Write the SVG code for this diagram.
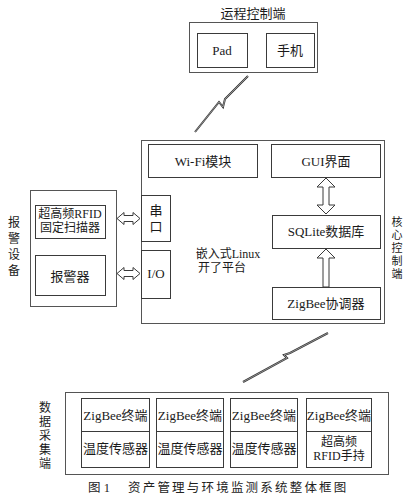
<svg xmlns="http://www.w3.org/2000/svg" width="409" height="494" viewBox="0 0 409 494">
<style>
.box{fill:#fff;stroke:#3a3a3a;stroke-width:1}
.outer{fill:none;stroke:#555;stroke-width:1}
.t{font-family:"Liberation Serif","Noto Sans CJK SC",serif;font-size:13px;fill:#1a1a1a;text-anchor:middle}
.s{font-family:"Liberation Serif","Noto Sans CJK SC",serif;font-size:12px;fill:#1a1a1a;text-anchor:middle}
.v{font-family:"Liberation Serif","Noto Sans CJK SC",serif;font-size:12px;fill:#1a1a1a;text-anchor:middle}
.vs{font-family:"Liberation Serif","Noto Sans CJK SC",serif;font-size:11px;fill:#1a1a1a;text-anchor:middle}
.arrow{fill:#fff;stroke:#3a3a3a;stroke-width:1;stroke-linejoin:miter}
.bolt{fill:none;stroke:#333;stroke-width:2;stroke-linejoin:miter}
.bolt2{fill:none;stroke:#ccc;stroke-width:0.6;stroke-linejoin:miter}
</style>
<rect width="409" height="494" fill="#fff"/>

<g id="remote">
  <text class="t" x="253" y="18">运程控制端</text>
  <rect class="outer" x="189.5" y="22.5" width="128" height="50"/>
  <g id="pad"><rect class="box" x="197.5" y="33.5" width="50" height="34"/><text class="t" x="222" y="55">Pad</text></g>
  <g id="phone"><rect class="box" x="266.5" y="33.5" width="48" height="34"/><text class="t" x="290" y="55">手机</text></g>
</g>

<g id="core">
  <rect class="outer" x="141.5" y="140.5" width="243" height="183"/>
  <text class="vs" x="397" y="226">核</text>
  <text class="vs" x="397" y="239">心</text>
  <text class="vs" x="397" y="252">控</text>
  <text class="vs" x="397" y="265">制</text>
  <text class="vs" x="397" y="278">端</text>
  <g id="wifi"><rect class="box" x="148.5" y="144.5" width="109" height="33"/><text class="t" x="203" y="165.5">Wi-Fi模块</text></g>
  <g id="gui"><rect class="box" x="271.5" y="144.5" width="109" height="33"/><text class="t" x="326" y="165.5">GUI界面</text></g>
  <g id="sqlite"><rect class="box" x="272.5" y="215.5" width="108" height="33"/><text class="t" x="326" y="236">SQLite数据库</text></g>
  <g id="coord"><rect class="box" x="272.5" y="287.5" width="108" height="32"/><text class="t" x="326" y="308">ZigBee协调器</text></g>
  <g id="serial"><rect class="box" x="141.5" y="195.5" width="29" height="46"/><text class="t" x="156" y="215">串</text><text class="t" x="156" y="231">口</text></g>
  <g id="io"><rect class="box" x="141.5" y="250.5" width="29" height="48"/><text class="t" x="156" y="278">I/O</text></g>
  <g id="linux"><text class="s" x="228" y="258">嵌入式Linux</text><text class="s" x="222" y="272">开了平台</text></g>
</g>

<g id="alarm">
  <text class="v" x="14" y="227">报</text>
  <text class="v" x="14" y="243">警</text>
  <text class="v" x="14" y="259">设</text>
  <text class="v" x="14" y="275">备</text>
  <rect class="outer" x="30.5" y="190.5" width="86" height="116"/>
  <g id="rfid-scanner"><rect class="box" x="35.5" y="205.5" width="70" height="33"/><text class="s" x="70" y="218">超高频RFID</text><text class="s" x="70" y="232">固定扫描器</text></g>
  <g id="alarmer"><rect class="box" x="35.5" y="255.5" width="70" height="40"/><text class="t" x="70" y="281">报警器</text></g>
</g>

<g id="collect">
  <text class="v" x="45" y="412">数</text>
  <text class="v" x="45" y="426">据</text>
  <text class="v" x="45" y="440">采</text>
  <text class="v" x="45" y="454">集</text>
  <text class="v" x="45" y="468">端</text>
  <rect class="outer" x="65.5" y="392.5" width="323" height="82"/>
  <g id="node1"><rect class="box" x="81.5" y="398.5" width="68" height="69"/><line x1="81.5" y1="431.5" x2="149.5" y2="431.5" stroke="#3a3a3a"/><text class="t" x="115.5" y="420">ZigBee终端</text><text class="t" x="115.5" y="453">温度传感器</text></g>
  <g id="node2"><rect class="box" x="156.5" y="398.5" width="67" height="69"/><line x1="156.5" y1="431.5" x2="223.5" y2="431.5" stroke="#3a3a3a"/><text class="t" x="190" y="420">ZigBee终端</text><text class="t" x="190" y="453">温度传感器</text></g>
  <g id="node3"><rect class="box" x="230.5" y="398.5" width="67" height="69"/><line x1="230.5" y1="431.5" x2="297.5" y2="431.5" stroke="#3a3a3a"/><text class="t" x="264" y="420">ZigBee终端</text><text class="t" x="264" y="453">温度传感器</text></g>
  <g id="node4"><rect class="box" x="306.5" y="398.5" width="65" height="69"/><line x1="306.5" y1="431.5" x2="371.5" y2="431.5" stroke="#3a3a3a"/><text class="t" x="339" y="420">ZigBee终端</text><text class="s" x="339" y="446">超高频</text><text class="s" x="339" y="460">RFID手持</text></g>
</g>

<g id="connectors">
  <path class="bolt" d="M248,76 L225,99 L223,107 L219,102 L195,132"/>
  <path class="bolt2" d="M248,76 L225,99 L223,107 L219,102 L195,132"/>
  <path class="bolt" d="M328,333 L290,353 L284,355 L287,358 L243,382"/>
  <path class="bolt2" d="M328,333 L290,353 L284,355 L287,358 L243,382"/>
  <polygon class="arrow" points="117,218.5 124,212.5 124,215.5 133,215.5 133,212.5 140,218.5 133,224.5 133,221.5 124,221.5 124,224.5"/>
  <polygon class="arrow" points="117,273.5 124,267.5 124,270.5 133,270.5 133,267.5 140,273.5 133,279.5 133,276.5 124,276.5 124,279.5"/>
  <polygon class="arrow" points="326,178 335,187 329,187 329,205 335,205 326,214 317,205 323,205 323,187 317,187"/>
  <polygon class="arrow" points="326,249 335,258 329,258 329,287 323,287 323,258 317,258"/>
</g>

<text font-family="'Liberation Serif','Noto Sans CJK SC',serif" font-size="12.5" fill="#222" x="88" y="492">图 1</text>
<text font-family="'Liberation Serif','Noto Sans CJK SC',serif" font-size="12.5" letter-spacing="2.2" fill="#222" x="128" y="492">资产管理与环境监测系统整体框图</text>
</svg>
